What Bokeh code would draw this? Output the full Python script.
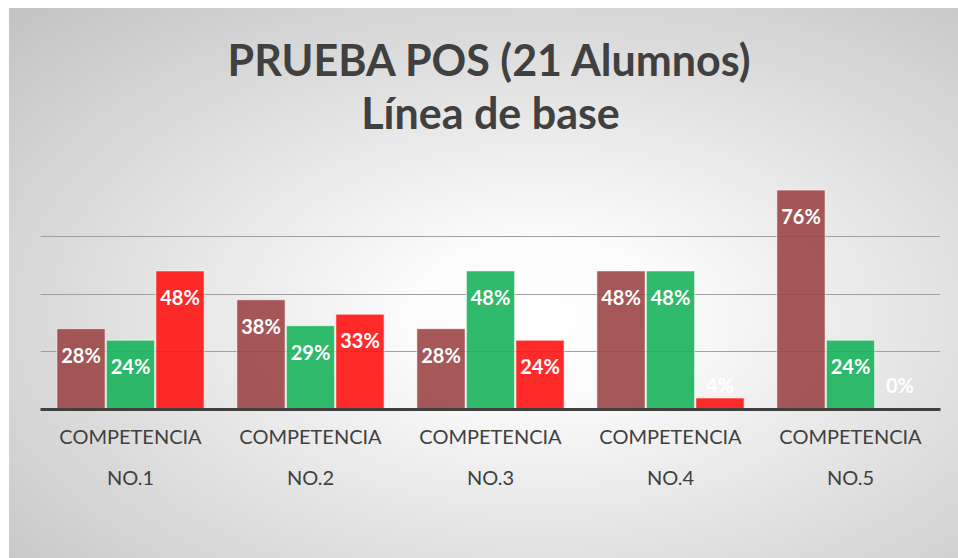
from bokeh.plotting import figure
from bokeh.models import ColumnDataSource, FactorRange, Legend, LegendItem, Title
from bokeh.transform import dodge
from bokeh.core.properties import value
from bokeh.embed import file_html
from bokeh.resources import INLINE

# ---- data ----
category_line1 = ["COMPETENCIA"] * 5
category_line2 = ["NO.1", "NO.2", "NO.3", "NO.4", "NO.5"]
nivel_bajo = [0.28, 0.38, 0.28, 0.48, 0.76]
nivel_medio = [0.24, 0.29, 0.48, 0.48, 0.24]
nivel_alto = [0.48, 0.33, 0.24, 0.04, 0.00]
series_names = ["Nivel Bajo", "Nivel Medio", "Nivel Alto"]
title_lines = ["PRUEBA POS (21 Alumnos)", "Línea de base"]

# nested factors: outer level (NO.x) is drawn below the inner one (COMPETENCIA)
categories = list(zip(category_line2, category_line1))

series_values = [nivel_bajo, nivel_medio, nivel_alto]
colors = ["#9c4646", "#18b35c", "#ff1414"]
offsets = [-0.275, 0.0, 0.275]
BAR_W = 0.268
TEXT_COLOR = "#404040"

x_range = FactorRange(*categories, group_padding=0, factor_padding=0)
p = figure(x_range=x_range, y_range=(0, 0.8),
           frame_width=900, frame_height=231, output_backend="svg", toolbar_location=None,
           min_border_left=31, min_border_right=18, min_border_top=170,
           min_border_bottom=149)
p.styles = {"margin-left": "9px", "margin-top": "8px",
            "background-image":
            "radial-gradient(ellipse farthest-corner at 56% 56%, #ffffff 0%, #fbfbfb 18%, #c2c2c2 100%)"}
p.border_fill_color = None
p.background_fill_color = None
p.outline_line_color = None
p.title.visible = False

# gap between the frame and the title (added first, so it sits next to the frame)
p.add_layout(Title(text=" ", text_font_size="10px", standoff=28), "above")
for txt in [title_lines[1], title_lines[0]]:
    t = Title(text=txt, align="center", text_font="Lato", text_font_size="43px",
              text_font_style="bold", text_color=TEXT_COLOR, standoff=0)
    p.add_layout(t, "above")

legend_items = []
for name, vals, col, off in zip(series_names, series_values, colors, offsets):
    small = [v < 0.1 for v in vals]
    src = ColumnDataSource(dict(
        cat=categories,
        val=vals,
        label_y=[0 if s else v for s, v in zip(small, vals)],
        label_off=[-25 if s else 26 for s in small],
        label=[f"{round(v * 100)}%" for v in vals],
    ))
    r = p.vbar(x=dodge("cat", off, range=p.x_range), top="val", width=BAR_W, source=src,
               fill_color=col, fill_alpha=0.9, line_color="white", line_alpha=0.6,
               line_width=1)
    p.text(x=dodge("cat", off, range=p.x_range), y="label_y", text="label", source=src,
           y_offset="label_off", text_align="center", text_baseline="middle",
           text_color="white", text_font=value("Lato"), text_font_style="bold",
           text_font_size="20px")
    legend_items.append(LegendItem(label=name, renderers=[r]))

p.yaxis.visible = False
p.ygrid.grid_line_color = "#a0a0a0"
p.ygrid.grid_line_width = 1.2
p.ygrid.ticker = [0.2, 0.4, 0.6, 0.8]
p.xgrid.grid_line_color = None

ax = p.xaxis[0]
ax.axis_line_color = TEXT_COLOR
ax.axis_line_width = 3
ax.major_tick_line_color = None
ax.minor_tick_line_color = None
ax.major_tick_out = 0
ax.major_tick_in = 0
ax.separator_line_color = None
ax.major_label_text_font = "Lato"
ax.major_label_text_font_size = "20px"
ax.major_label_text_color = TEXT_COLOR
ax.major_label_standoff = 14
ax.group_text_font = "Lato"
ax.group_text_font_size = "20px"
ax.group_text_font_style = "normal"
ax.group_text_color = TEXT_COLOR

# legend sits below the category labels, positioned relative to the frame
legend = Legend(items=legend_items, orientation="horizontal", location=(244, -125))
legend.background_fill_alpha = 0
legend.border_line_color = None
legend.glyph_width = 13
legend.glyph_height = 13
legend.label_standoff = 7
legend.spacing = 28
legend.label_text_font = "Lato"
legend.label_text_font_size = "21px"
legend.label_text_color = TEXT_COLOR
legend.margin = 0
legend.padding = 0
p.add_layout(legend, "center")

open("out.html", "w").write(file_html(p, INLINE))
